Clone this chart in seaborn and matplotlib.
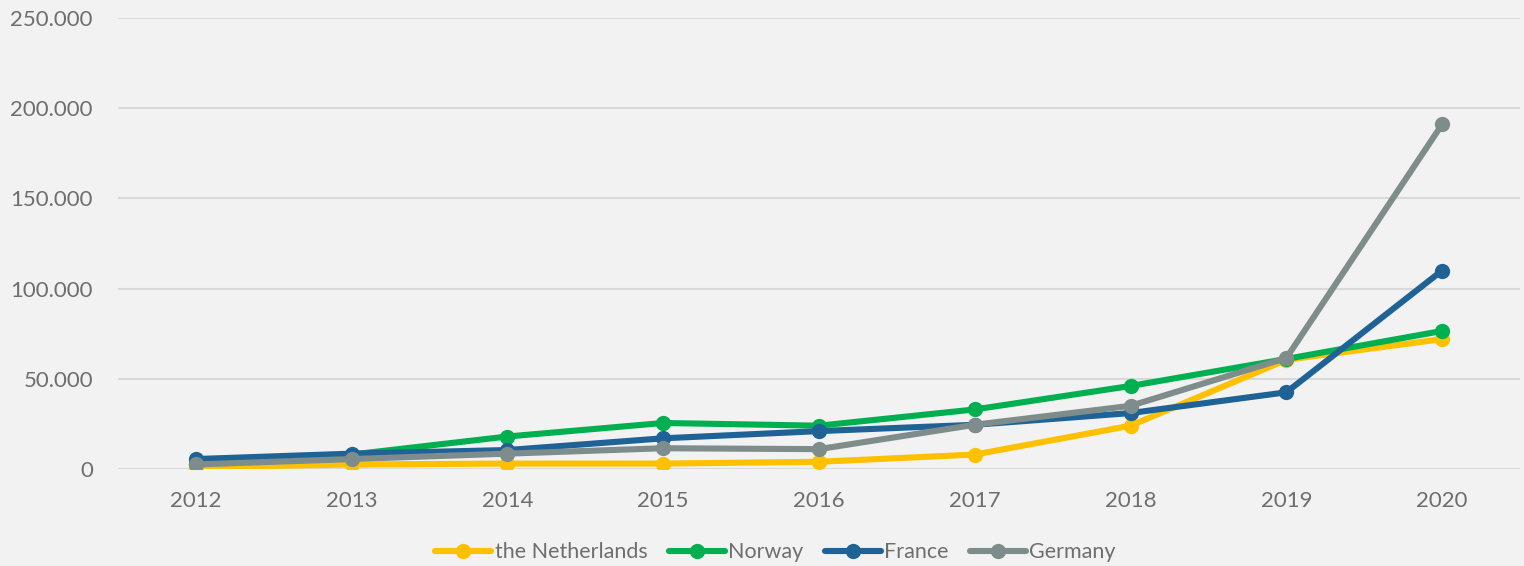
import matplotlib
matplotlib.use("Agg")
import matplotlib.pyplot as plt
from matplotlib.ticker import FuncFormatter
import seaborn as sns
import pandas as pd

years = [2012, 2013, 2014, 2015, 2016, 2017, 2018, 2019, 2020]
netherlands = [1000, 2500, 3000, 3000, 4000, 8000, 24000, 60500, 72000]
norway = [3000, 8000, 18000, 25500, 24000, 33000, 46000, 61000, 76500]
france = [5500, 8500, 10500, 17000, 21000, 24500, 31000, 42500, 110000]
germany = [2500, 5500, 8500, 11500, 11000, 24500, 35000, 61500, 191000]

countries = ["the Netherlands", "Norway", "France", "Germany"]
colors = ["#FFC000", "#00B050", "#1F6396", "#7F8C8C"]

df = pd.DataFrame({
    "year": years * 4,
    "value": netherlands + norway + france + germany,
    "country": sum([[c] * len(years) for c in countries], []),
})

sns.set_theme(style="white")
plt.rcParams["font.family"] = ["Lato", "DejaVu Sans"]

text_color = "#6E6E6E"

fig = plt.figure(figsize=(15.24, 5.66), dpi=100, facecolor="#F2F2F2")
ax = fig.add_axes([0.0774, 0.1714, 0.92, 0.797])
ax.set_facecolor("#F2F2F2")

sns.lineplot(data=df, x="year", y="value", hue="country", hue_order=countries,
             palette=colors, marker="o", markersize=11, markeredgewidth=0,
             linewidth=4.4, ax=ax)

ax.set_xlim(2011.5, 2020.5)
ax.set_ylim(0, 250000)
ax.set_yticks(range(0, 250001, 50000))
ax.set_xticks(years)
ax.yaxis.set_major_formatter(FuncFormatter(lambda v, p: f"{int(v):,}".replace(",", ".")))
ax.grid(axis="y", color="#D9D9D9", linewidth=1.5)
ax.set_axisbelow(True)
for s in ax.spines.values():
    s.set_visible(False)
ax.tick_params(axis="both", length=0, labelsize=16, labelcolor=text_color)
ax.tick_params(axis="y", pad=18)
ax.tick_params(axis="x", pad=16)
ax.set_xlabel("")
ax.set_ylabel("")

handles, labels = ax.get_legend_handles_labels()
leg = ax.legend(handles, labels, loc="upper center", bbox_to_anchor=(0.469, -0.12),
                ncol=4, frameon=False, fontsize=15.5, handlelength=2.6,
                handletextpad=0.15, columnspacing=1.0)
for t in leg.get_texts():
    t.set_color(text_color)

fig.savefig("out.png", dpi=100, facecolor=fig.get_facecolor())
